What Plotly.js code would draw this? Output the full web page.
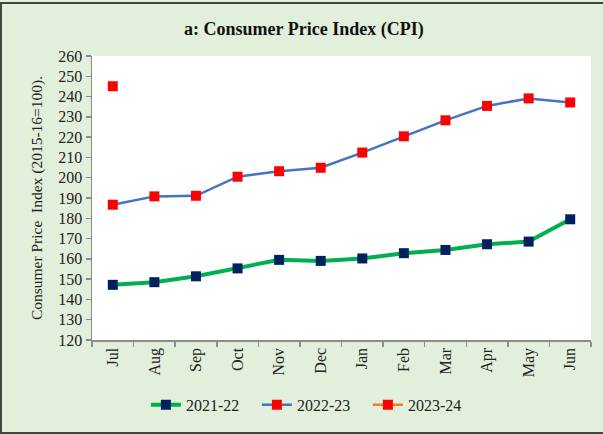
<!DOCTYPE html>
<html>
<head>
<meta charset="utf-8">
<script src="https://cdn.plot.ly/plotly-3.0.1.min.js"></script>
<style>
  html, body { margin: 0; padding: 0; background: #E2EFDA; }
  #wrap { position: relative; width: 603px; height: 434px; overflow: hidden; }
  #chart { width: 603px; height: 434px; }
  #frame { position: absolute; left: 0px; top: 2px; width: 620px; height: 428px;
           border: 2px solid #3F4A3F; pointer-events: none; box-sizing: content-box; }
</style>
</head>
<body>
<div id="wrap">
  <div id="chart"></div>
  <div id="frame"></div>
</div>
<script>
const months = ["Jul","Aug","Sep","Oct","Nov","Dec","Jan","Feb","Mar","Apr","May","Jun"];
const cpi2021_22 = [147.2, 148.5, 151.4, 155.3, 159.5, 159.0, 160.2, 162.8, 164.4, 167.2, 168.5, 179.5];
const cpi2022_23 = [186.7, 190.8, 191.1, 200.5, 203.2, 204.9, 212.4, 220.4, 228.3, 235.4, 239.1, 237.1];
const cpi2023_24 = [245.1];
const months2023_24 = months.slice(0, cpi2023_24.length);

const serif = "Liberation Serif, Times New Roman, serif";

const traces = [
  {
    x: months, y: cpi2021_22, name: "2021-22", type: "scatter", mode: "lines+markers",
    line: {color: "#00B050", width: 4},
    marker: {symbol: "square", size: 10, color: "#002060", line: {width: 0}}
  },
  {
    x: months, y: cpi2022_23, name: "2022-23", type: "scatter", mode: "lines+markers",
    line: {color: "#4472C4", width: 2.5},
    marker: {symbol: "square", size: 10, color: "#FF0000", line: {width: 0}}
  },
  {
    x: months2023_24, y: cpi2023_24, name: "2023-24", type: "scatter", mode: "lines+markers",
    line: {color: "#ED7D31", width: 2.5},
    marker: {symbol: "square", size: 10, color: "#FF0000", line: {width: 0}}
  }
];

const layout = {
  width: 603, height: 434,
  margin: {l: 92, r: 12, t: 56, b: 91},
  paper_bgcolor: "#E2EFDA",
  plot_bgcolor: "#FFFFFF",
  font: {family: serif, size: 16, color: "#222222"},
  title: {
    text: "<b>a: Consumer Price Index (CPI)</b>",
    font: {family: serif, size: 18, color: "#111111"},
    x: 0.504, xanchor: "center", y: 0.935, yanchor: "middle", xref: "container"
  },
  showlegend: true,
  legend: {
    orientation: "h", x: 0.108, xanchor: "left", y: -0.228, yanchor: "middle",
    font: {family: serif, size: 16, color: "#222222"},
    bgcolor: "rgba(0,0,0,0)", itemwidth: 30, tracegroupgap: 0,
    entrywidth: 66, entrywidthmode: "pixels"
  },
  xaxis: {
    type: "category", categoryorder: "array", categoryarray: months,
    range: [-0.5, 11.5],
    tickangle: -90, tickson: "boundaries",
    ticks: "outside", ticklen: 5, tickcolor: "#8C8C8C", tickwidth: 1.5,
    showline: true, linecolor: "#8C8C8C", linewidth: 1.5,
    showgrid: false, zeroline: false,
    tickfont: {family: serif, size: 16, color: "#222222"}
  },
  yaxis: {
    range: [120, 260], dtick: 10, tick0: 120,
    ticks: "outside", ticklen: 5, tickcolor: "#8C8C8C", tickwidth: 1.5,
    showline: true, linecolor: "#8C8C8C", linewidth: 1.5,
    showgrid: false, zeroline: false,
    tickfont: {family: serif, size: 16, color: "#222222"},
    title: {text: "Consumer Price  Index (2015-16=100).", font: {family: serif, size: 15.5, color: "#222222"}, standoff: 12}
  }
};

Plotly.newPlot("chart", traces, layout, {displayModeBar: false, staticPlot: true});
</script>
</body>
</html>
